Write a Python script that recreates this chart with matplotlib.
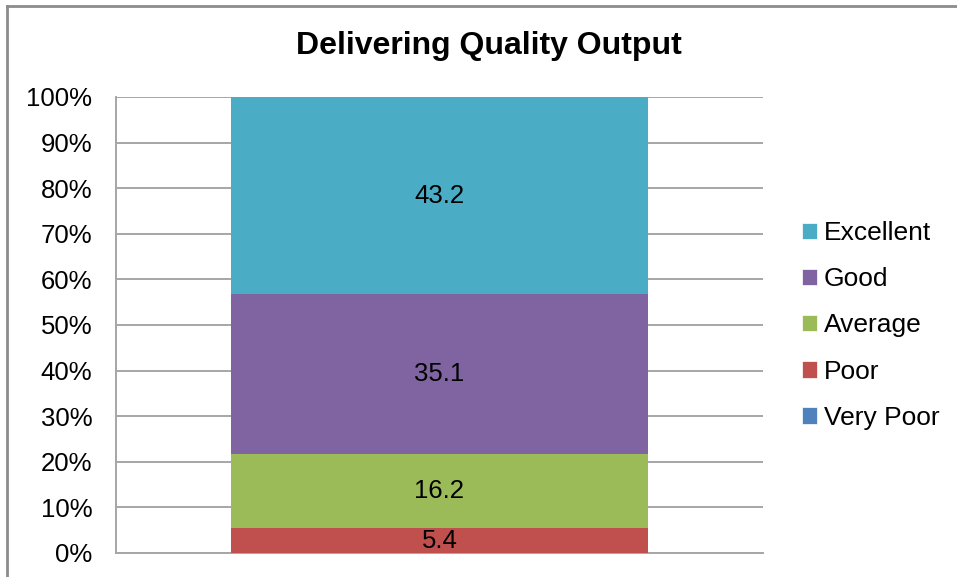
import numpy as np
import matplotlib
matplotlib.use("Agg")
import matplotlib.pyplot as plt
from matplotlib.lines import Line2D
from matplotlib.patches import Patch

plt.rcParams['font.family'] = ['Liberation Sans', 'DejaVu Sans']

categories = ['Very Poor', 'Poor', 'Average', 'Good', 'Excellent']
values = [0.0, 5.4, 16.2, 35.1, 43.2]
colors = ['#4F81BD', '#C0504D', '#9BBB59', '#8064A2', '#4BACC6']
yticks = [0, 10, 20, 30, 40, 50, 60, 70, 80, 90, 100]
ytick_labels = [f'{t}%' for t in yticks]

fig = plt.figure(figsize=(9.57, 5.77), dpi=100)
ax = fig.add_axes([116/957, 24/577, (763-116)/957, (553-97)/577])

# 100% stacked: normalise to the total
total = sum(values)
shares = [v / total * 100 for v in values]
bottom = 0.0
for cat, v, s, c in zip(categories, values, shares, colors):
    ax.bar(0, s, width=0.643, bottom=bottom, color=c, label=cat, zorder=3)
    if v > 0:
        ax.text(0, bottom + s / 2, f'{v:.1f}', ha='center', va='center',
                fontsize=18.5, color='black', zorder=4)
    bottom += s

ax.set_xlim(-0.5, 0.5)
ax.set_ylim(0, 100)
ax.set_yticks(yticks)
ax.set_yticklabels(ytick_labels, fontsize=18.5)
ax.set_xticks([])
ax.tick_params(axis='y', length=0, pad=17)
ax.grid(axis='y', color='#A6A6A6', linewidth=1.4, zorder=0)
for side in ['top', 'right']:
    ax.spines[side].set_visible(False)
for side in ['left', 'bottom']:
    ax.spines[side].set_color('#A6A6A6')
    ax.spines[side].set_linewidth(1.4)

fig.text(489/957, 1 - 46/577, 'Delivering Quality Output', ha='center', va='center',
         fontsize=23, fontweight='bold')

handles = [Patch(facecolor=c, edgecolor='white', linewidth=0.5) for c in colors][::-1]
fig.legend(handles, categories[::-1], loc='center left',
           bbox_to_anchor=(802/957, 1 - 325.5/577), frameon=False,
           fontsize=19, handlelength=0.58, handleheight=0.58,
           handletextpad=0.25, labelspacing=0.84, borderpad=0, borderaxespad=0)

# chart border (only left and top visible in the crop)
fig.add_artist(Line2D([7/957, 7/957], [0, 1 - 6/577], transform=fig.transFigure,
                      color='#8C8C8C', linewidth=2))
fig.add_artist(Line2D([7/957, 1], [1 - 6/577, 1 - 6/577], transform=fig.transFigure,
                      color='#8C8C8C', linewidth=2))

fig.savefig('out.png', dpi=100)
